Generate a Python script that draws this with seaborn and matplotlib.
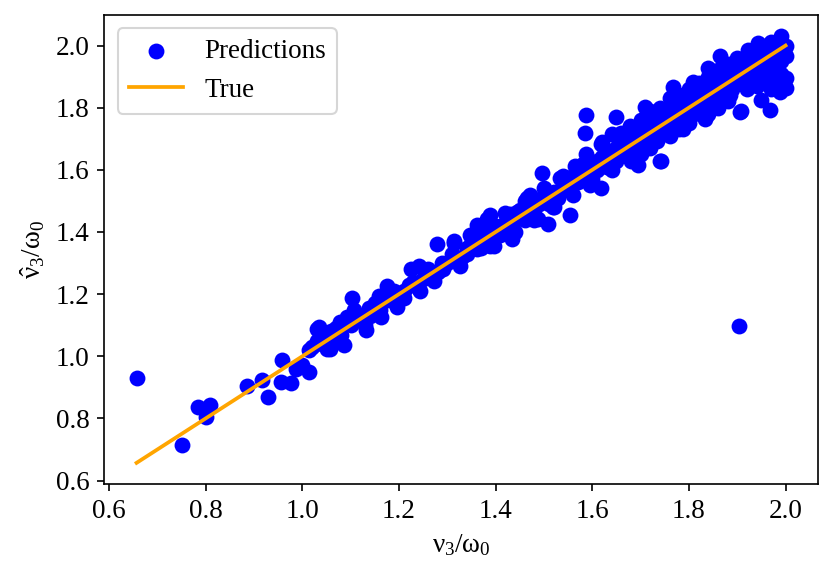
import matplotlib
matplotlib.use("Agg")
import matplotlib.pyplot as plt
import seaborn as sns

# true (x) and predicted (y) values
true_vals = [
    0.657, 0.752, 0.784, 0.809, 0.800, 0.886, 0.916, 0.930, 0.958, 0.955,
    0.976, 0.986, 1.000, 1.014, 1.014, 1.036, 1.052, 1.031, 1.079, 1.058,
    1.086, 1.093, 1.034, 1.062, 1.103, 1.107, 1.131, 1.137, 1.158, 1.162,
    1.175, 1.196, 1.210, 1.224, 1.241, 1.244, 1.272, 1.278, 1.292, 1.313,
    1.327, 1.341, 1.347, 1.361, 1.382, 1.389, 1.313, 1.361, 1.389, 1.396,
    1.430, 1.433, 1.465, 1.382, 1.409, 1.444, 1.471, 1.495, 1.488, 1.509,
    1.519, 1.533, 1.554, 1.564, 1.588, 1.595, 1.585, 1.588, 1.619, 1.619,
    1.640, 1.650, 1.657, 1.695, 1.678, 1.712, 1.705, 1.733, 1.740, 1.743,
    1.709, 1.767, 1.788, 1.809, 1.833, 1.840, 1.864, 1.905, 1.884, 1.905,
    1.922, 1.943, 1.950, 1.981, 1.991, 2.000, 2.000, 2.000, 1.988, 1.904,
    1.967, 1.907,
    1.02, 1.04, 1.06, 1.10, 1.12, 1.14, 1.15, 1.18, 1.19, 1.21,
    1.23, 1.25, 1.26, 1.28, 1.30, 1.31, 1.33, 1.35, 1.36, 1.37,
    1.38, 1.39, 1.40, 1.41, 1.42, 1.43, 1.44, 1.45, 1.46, 1.47,
    1.48, 1.49, 1.50, 1.51, 1.52, 1.53, 1.54, 1.55, 1.56, 1.57,
    1.58, 1.59, 1.60, 1.61, 1.62, 1.63, 1.64, 1.65, 1.66, 1.67,
    1.68, 1.69, 1.70, 1.71, 1.72, 1.73, 1.74, 1.75, 1.76, 1.77,
    1.78, 1.79, 1.80, 1.81, 1.82, 1.83, 1.84, 1.85, 1.86, 1.87,
    1.88, 1.89, 1.90, 1.91, 1.92, 1.93, 1.94, 1.95, 1.96, 1.97,
    1.98, 1.99, 2.00, 1.99, 1.98,
    1.62, 1.66, 1.70, 1.74, 1.78, 1.82, 1.86, 1.90, 1.94, 1.97,
    1.72, 1.76, 1.80, 1.84, 1.88, 1.92, 1.96,
    1.64, 1.68, 1.72, 1.76, 1.80, 1.84, 1.88, 1.92, 1.96, 1.99,
    1.70, 1.78, 1.86, 1.94, 1.97,
    1.42, 1.46, 1.50, 1.54, 1.58, 1.44, 1.48, 1.52, 1.56, 1.60,
    1.05, 1.08, 1.11, 1.13, 1.16, 1.17, 1.20, 1.22, 1.24, 1.27,
    1.29, 1.32, 1.34, 1.37, 1.40, 1.43, 1.45, 1.49, 1.53, 1.57,
    1.61, 1.65, 1.69, 1.73, 1.77, 1.81, 1.85, 1.89, 1.93, 1.97,
    1.75, 1.79, 1.83, 1.87, 1.91, 1.95, 1.99, 1.82, 1.90, 1.98,
    1.51, 1.55, 1.59, 1.63, 1.67, 1.71, 1.75, 1.79, 1.83, 1.87,
    1.91, 1.95, 1.99, 1.68, 1.73, 1.77, 1.81, 1.85, 1.89, 1.93,
    1.07, 1.09, 1.12, 1.03,
]
pred_vals = [
    0.929, 0.714, 0.836, 0.842, 0.806, 0.904, 0.924, 0.870, 0.989, 0.917,
    0.915, 0.959, 0.973, 0.951, 1.021, 1.057, 1.024, 1.089, 1.111, 1.024,
    1.035, 1.128, 1.095, 1.057, 1.187, 1.149, 1.084, 1.155, 1.193, 1.128,
    1.226, 1.160, 1.187, 1.280, 1.291, 1.209, 1.242, 1.361, 1.280, 1.366,
    1.291, 1.329, 1.389, 1.345, 1.416, 1.356, 1.372, 1.421, 1.454, 1.356,
    1.459, 1.378, 1.508, 1.443, 1.410, 1.465, 1.519, 1.590, 1.443, 1.427,
    1.481, 1.573, 1.454, 1.612, 1.650, 1.552, 1.720, 1.775, 1.541, 1.682,
    1.715, 1.769, 1.661, 1.617, 1.742, 1.769, 1.682, 1.693, 1.628, 1.628,
    1.802, 1.867, 1.731, 1.883, 1.764, 1.927, 1.965, 1.786, 1.840, 1.949,
    1.987, 2.009, 1.824, 1.889, 2.030, 1.965, 1.895, 1.862, 1.851, 1.098,
    1.791, 1.788,
    1.03, 1.04, 1.08, 1.10, 1.12, 1.13, 1.17, 1.18, 1.21, 1.21,
    1.24, 1.25, 1.28, 1.27, 1.30, 1.33, 1.32, 1.36, 1.38, 1.39,
    1.37, 1.40, 1.42, 1.39, 1.43, 1.41, 1.44, 1.46, 1.44, 1.48,
    1.47, 1.50, 1.52, 1.49, 1.53, 1.51, 1.55, 1.54, 1.58, 1.56,
    1.60, 1.57, 1.62, 1.60, 1.64, 1.61, 1.66, 1.63, 1.68, 1.65,
    1.70, 1.67, 1.72, 1.69, 1.75, 1.71, 1.76, 1.73, 1.79, 1.75,
    1.80, 1.77, 1.83, 1.78, 1.85, 1.80, 1.86, 1.82, 1.89, 1.84,
    1.91, 1.86, 1.92, 1.88, 1.94, 1.90, 1.96, 1.92, 1.97, 1.93,
    1.99, 1.95, 2.00, 1.91, 1.96,
    1.69, 1.72, 1.76, 1.80, 1.84, 1.88, 1.92, 1.96, 1.99, 2.01,
    1.79, 1.83, 1.86, 1.90, 1.94, 1.97, 2.00,
    1.60, 1.63, 1.67, 1.71, 1.75, 1.78, 1.82, 1.86, 1.89, 1.88,
    1.65, 1.73, 1.80, 1.87, 1.86,
    1.46, 1.50, 1.54, 1.58, 1.62, 1.40, 1.44, 1.48, 1.52, 1.57,
    1.06, 1.07, 1.12, 1.10, 1.15, 1.19, 1.19, 1.23, 1.22, 1.26,
    1.30, 1.31, 1.35, 1.35, 1.40, 1.44, 1.47, 1.49, 1.53, 1.58,
    1.63, 1.67, 1.71, 1.75, 1.78, 1.82, 1.86, 1.89, 1.92, 1.98,
    1.77, 1.81, 1.85, 1.88, 1.91, 1.95, 1.97, 1.81, 1.89, 1.93,
    1.50, 1.54, 1.58, 1.62, 1.66, 1.70, 1.74, 1.78, 1.82, 1.86,
    1.90, 1.94, 1.98, 1.71, 1.76, 1.80, 1.83, 1.87, 1.91, 1.95,
    1.09, 1.11, 1.13, 1.05,
]

plt.rcParams['font.family'] = ['Liberation Serif', 'DejaVu Serif']
plt.rcParams['mathtext.fontset'] = 'custom'
plt.rcParams['mathtext.rm'] = 'Liberation Serif'
plt.rcParams['mathtext.it'] = 'Liberation Serif'
plt.rcParams['mathtext.bf'] = 'Liberation Serif:bold'
plt.rcParams['font.size'] = 13

fig, ax = plt.subplots(figsize=(833 / 150, 573 / 150), dpi=150)
fig.subplots_adjust(left=0.125, right=0.982, top=0.974, bottom=0.155)

sns.scatterplot(x=true_vals, y=pred_vals, color='blue', s=58, linewidth=0,
                label='Predictions', ax=ax, zorder=2)
line = [min(true_vals), max(true_vals)]
sns.lineplot(x=line, y=line, color='orange', linewidth=1.8, label='True', ax=ax, zorder=3)

ax.set_xlabel(r'$\nu_3/\omega_0$')
ax.set_ylabel(r'$\hat{\nu}_3/\omega_0$')
ax.legend(loc='upper left')

fig.savefig('out.png', dpi=150)
